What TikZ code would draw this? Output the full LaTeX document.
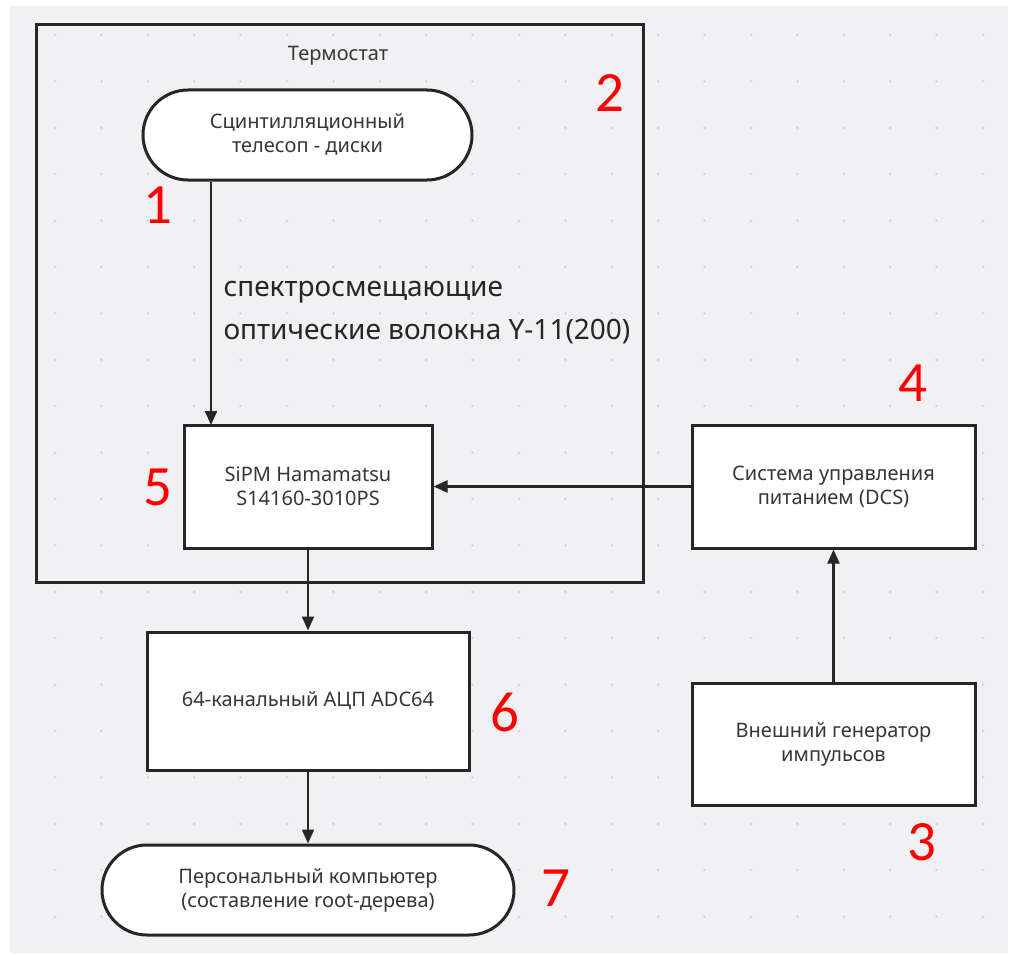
\documentclass[tikz,border=0pt]{standalone}
\usepackage{fontspec}
\setmainfont{Noto Sans}
\newfontfamily\numfont{Carlito}
\usetikzlibrary{arrows.meta,shapes.misc}
\definecolor{fon}{HTML}{F1F1F3}
\definecolor{tochka}{HTML}{D4D4D8}
\definecolor{tekst}{HTML}{363636}
\tikzset{
  blok/.style={draw=black!85, line width=3pt, fill=white, text=tekst, align=center,
    font=\fontsize{20}{24}\selectfont, inner sep=0pt},
  pill/.style={blok, rounded rectangle},
  strelka/.style={-{Triangle[length=14pt,width=12pt]}, line width=2.2pt, draw=black!85},
  nomer/.style={text=red, font=\numfont\fontsize{57}{57}\selectfont},
}
\begin{document}
\begin{tikzpicture}[x=1pt,y=-1pt]
        \useasboundingbox (0,0) rectangle (1012,955);
        \fill[fon] (10,6) rectangle (1008,953);
        \foreach \i in {0,...,20}
            \foreach \j in {0,...,19}
                \fill[tochka] (55+46.4*\i, 35+46.4*\j) circle (1.5);

        % termostat
        \draw[line width=3pt, black!85] (36,25) rectangle (643,582);
        \node[text=tekst, font=\fontsize{20}{24}\selectfont] (termostat) at (338,56) {Термостат};

        \node[pill, minimum width=329, minimum height=90] (teleskop) at (307.5,135) {Сцинтилляционный\\телесоп - диски};
        \node[blok, minimum width=248, minimum height=123] (sipm) at (308,486.5) {SiPM Hamamatsu\\S14160-3010PS};
        \node[blok, minimum width=283, minimum height=123] (dcs) at (833.5,486.5) {Система управления\\питанием (DCS)};
        \node[blok, minimum width=283, minimum height=122] (gen) at (833.5,744) {Внешний генератор\\импульсов};
        \node[blok, minimum width=322, minimum height=138] (adc) at (308,701) {64-канальный АЦП ADC64};
        \node[pill, minimum width=412, minimum height=90] (pc) at (308,890) {Персональный компьютер\\(составление root-дерева)};

        \node[anchor=west, align=left, text=black!85, font=\fontsize{28}{43}\selectfont] (volokna) at (220,313)
            {спектросмещающие\\оптические волокна Y-11(200)};

        \coordinate (vhod) at (211,425);
        \draw[strelka] (teleskop.south -| vhod) -- (vhod);
        \draw[strelka] (dcs.west) -- (sipm.east);
        \draw[strelka] (gen.north) -- (dcs.south);
        \draw[strelka] (sipm.south) -- (adc.north);
        \draw[strelka] (adc.south) -- (pc.north);

        \node[nomer] (n1) at (158,205) {1};
        \node[nomer] (n2) at (610,93) {2};
        \node[nomer] (n3) at (922,842) {3};
        \node[nomer] (n4) at (913,383) {4};
        \node[nomer] (n5) at (158,487) {5};
        \node[nomer] (n6) at (505,712) {6};
        \node[nomer] (n7) at (556,888) {7};
\end{tikzpicture}
\end{document}
